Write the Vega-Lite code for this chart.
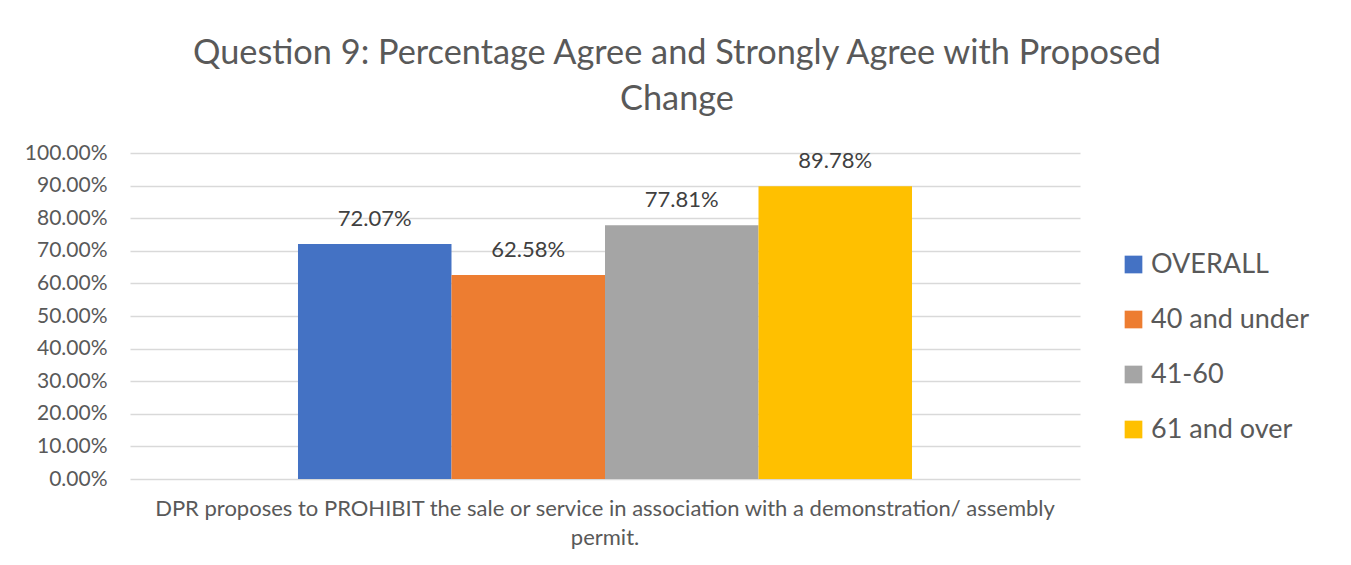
{
  "$schema": "https://vega.github.io/schema/vega-lite/v6.json",
  "width": 950,
  "height": 326,
  "autosize": {"type": "none"},
  "padding": {"left": 130, "top": 153, "right": 271, "bottom": 86},
  "background": "white",
  "config": {"view": {"stroke": null}, "font": "Lato"},
  "title": {
    "text": ["Question 9: Percentage Agree and Strongly Agree with Proposed", "Change"],
    "font": "Lato",
    "fontSize": 34.3,
    "fontWeight": "normal",
    "color": "#595959",
    "anchor": "middle",
    "frame": "group",
    "dx": 72,
    "baseline": "bottom",
    "offset": -9,
    "lineHeight": 46
  },
  "data": {
    "values": [
      {"question": "DPR proposes to PROHIBIT the sale or service in association with a demonstration/ assembly permit.", "group": "OVERALL", "pct": 0.7207},
      {"question": "DPR proposes to PROHIBIT the sale or service in association with a demonstration/ assembly permit.", "group": "40 and under", "pct": 0.6258},
      {"question": "DPR proposes to PROHIBIT the sale or service in association with a demonstration/ assembly permit.", "group": "41-60", "pct": 0.7781},
      {"question": "DPR proposes to PROHIBIT the sale or service in association with a demonstration/ assembly permit.", "group": "61 and over", "pct": 0.8978}
    ]
  },
  "encoding": {
    "x": {
      "field": "question",
      "type": "nominal",
      "scale": {"paddingInner": 0, "paddingOuter": 0.2736},
      "axis": {
        "title": null,
        "labelAngle": 0,
        "labelExpr": "[substring(datum.label, 0, 90), substring(datum.label, 91)]",
        "labelLimit": 0,
        "labelFont": "Lato",
        "labelFontSize": 22,
        "labelLineHeight": 29,
        "labelColor": "#595959",
        "labelPadding": 19,
        "ticks": false,
        "domain": false
      }
    },
    "xOffset": {
      "field": "group",
      "type": "nominal",
      "sort": ["OVERALL", "40 and under", "41-60", "61 and over"],
      "scale": {"paddingInner": 0, "paddingOuter": 0}
    },
    "y": {
      "field": "pct",
      "type": "quantitative",
      "scale": {"domain": [0, 1]},
      "axis": {
        "title": null,
        "values": [0, 0.1, 0.2, 0.3, 0.4, 0.5, 0.6, 0.7, 0.8, 0.9, 1],
        "format": ".2%",
        "labelFont": "Lato",
        "labelFontSize": 21,
        "labelColor": "#595959",
        "labelPadding": 23,
        "ticks": false,
        "domain": false,
        "gridColor": "#D9D9D9",
        "gridWidth": 1.5
      }
    }
  },
  "layer": [
    {
      "mark": {"type": "bar"},
      "encoding": {
        "color": {
          "field": "group",
          "type": "nominal",
          "sort": ["OVERALL", "40 and under", "41-60", "61 and over"],
          "scale": {
            "domain": ["OVERALL", "40 and under", "41-60", "61 and over"],
            "range": ["#4472C4", "#ED7D31", "#A5A5A5", "#FFC000"]
          },
          "legend": {
            "title": null,
            "orient": "none",
            "legendX": 990,
            "legendY": 98,
            "symbolType": "square",
            "symbolSize": 313,
            "symbolStrokeWidth": 0,
            "labelFont": "Lato",
            "labelFontSize": 27,
            "labelLimit": 0,
            "labelColor": "#595959",
            "labelOffset": 4,
            "rowPadding": 27
          }
        }
      }
    },
    {
      "mark": {"type": "text", "dy": -25, "baseline": "middle", "font": "Lato", "fontSize": 22, "color": "#404040"},
      "encoding": {
        "text": {"field": "pct", "type": "quantitative", "format": ".2%"}
      }
    }
  ]
}
